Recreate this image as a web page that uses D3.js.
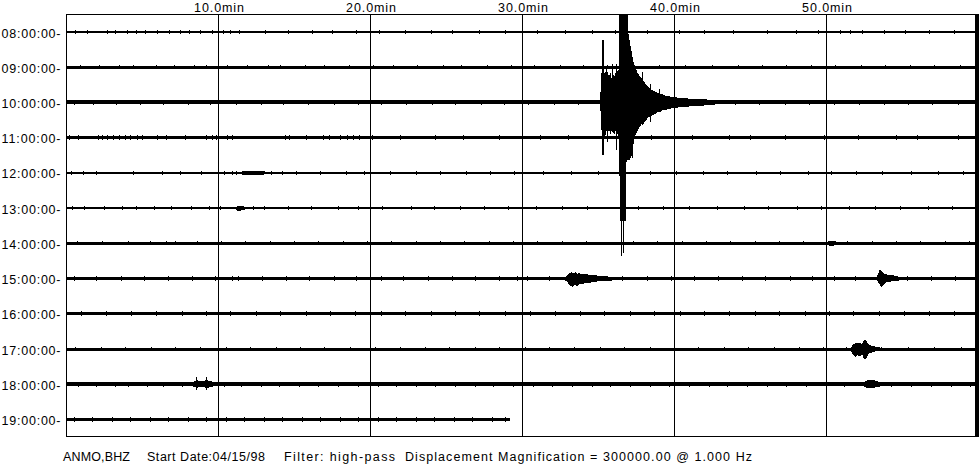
<!DOCTYPE html>
<html><head><meta charset="utf-8">
<script src="https://cdn.jsdelivr.net/npm/d3@7"></script>
<style>
html,body{margin:0;padding:0;background:#fff;}
svg{display:block;}
text{font-family:"Liberation Sans",Arial,Helvetica,sans-serif;fill:#000;}
</style></head><body>
<svg id="chart" width="979" height="464"></svg>
<script>
// ---------------- DATA ----------------
const rowLabels = ["08:00:00","09:00:00","10:00:00","11:00:00","12:00:00","13:00:00",
                   "14:00:00","15:00:00","16:00:00","17:00:00","18:00:00","19:00:00"];
const minuteTicks = [10, 20, 30, 40, 50];
// last recorded minute on each hourly line
const rowEndMinute = [60,60,60,60,60,60,60,60,60,60,60,29.2];
// background noise half-amplitude per line (counts; 352 counts = one line spacing)
const baseNoise = [13,13,20,13,13,13,14,16,15,15,18,16];
// small noise spikes per line (minutes)
const noiseTicks = [
  [0.6,1.4,2.7,3.2,4.0,4.6,5.2,6.0,6.8,7.5,8.1,8.8,9.6,10.3,10.8,11.4,13.1,14.6,16.2,17.5,19.1,20.6,22.3,24.0,25.4,27.2,28.9,31.0,32.8,34.6,36.1,38.2,40.3,42.0,43.9,46.1,48.0,49.5,50.9,51.6,52.4,53.8,55.2,56.8,58.4],
  [0.9,2.2,3.5,4.4,5.9,7.1,8.4,9.2,10.6,11.9,13.3,14.1,15.7,17.0,18.6,20.2,21.5,23.1,24.8,26.0,27.7,29.3,30.8,32.5,34.0,35.6,37.4,39.0,40.7,42.5,44.2,45.8,47.4,49.0,50.6,52.3,53.9,55.5,57.1,58.8],
  [0.5,1.8,3.3,4.9,6.4,8.0,9.5,11.2,12.8,14.3,15.9,17.6,19.2,20.7,22.4,24.1,25.6,27.3,28.8,30.4,32.1,33.7,44.0,45.6,47.3,48.9,50.5,52.2,53.8,55.4,57.0,58.7],
  [0.2,0.8,2.1,2.4,2.7,3.1,3.5,3.9,4.2,4.7,5.0,6.0,6.6,7.8,9.2,9.6,9.9,10.6,10.9,14.4,14.7,15.8,16.9,17.3,18.0,18.5,18.9,19.3,20.1,22.0,24.3,26.1,28.5,31.2,33.0,38.5,41.2,43.6,45.0,47.3,49.9,52.1,54.6,56.0,58.7],
  [0.3,1.1,2.0,4.4,6.3,7.5,8.9,10.4,10.9,11.2,13.5,14.2,15.1,16.7,18.4,19.6,21.3,23.0,24.6,26.3,27.9,29.5,31.4,33.2,35.0,38.4,40.1,41.9,43.5,45.4,47.0,48.8,50.3,52.0,53.7,55.6,57.4,59.0],
  [0.4,1.2,2.5,3.7,4.6,5.8,6.9,8.2,9.4,10.1,12.3,13.0,14.6,16.1,17.9,19.2,20.8,22.7,24.2,25.9,27.5,29.1,30.9,32.6,34.3,37.6,39.3,41.0,42.8,44.6,46.2,48.1,49.7,51.5,53.2,54.9,56.7,58.3],
  [0.7,2.4,4.1,5.5,6.6,7.2,8.6,10.2,11.8,13.4,15.0,16.6,18.2,19.8,21.4,23.0,24.6,26.2,27.8,29.4,31.0,32.6,34.2,37.3,38.9,40.5,42.1,43.7,45.3,46.9,48.5,51.4,53.0,54.6,56.2,57.8,59.4],
  [0.5,2.0,3.6,5.1,6.7,8.3,9.8,10.9,11.3,12.9,14.5,16.0,17.6,19.1,20.7,22.2,23.8,25.4,26.9,28.5,29.7,30.3,31.8,36.6,38.2,39.8,41.3,42.9,44.5,46.0,47.6,49.1,50.5,51.9,55.3,56.9,58.5],
  [1.0,2.6,4.3,5.9,7.6,9.2,10.8,12.5,14.1,15.8,17.4,19.0,20.7,22.3,24.0,25.6,27.2,28.9,30.5,32.2,33.8,35.4,37.1,38.7,40.4,42.0,43.6,45.3,46.9,48.6,50.2,51.8,53.5,55.1,56.8,58.4],
  [0.6,2.3,3.9,5.6,7.2,8.8,10.5,12.1,13.8,15.4,17.0,18.7,20.3,22.0,23.6,25.2,26.9,28.5,30.2,31.8,33.4,35.1,36.7,38.4,40.0,41.6,43.3,44.9,46.6,48.2,49.8,51.3,53.6,55.4,57.1,58.9],
  [0.8,2.0,3.2,4.1,5.3,6.4,7.6,10.4,11.5,12.8,14.0,15.3,16.6,17.9,19.2,20.5,21.7,23.0,24.3,25.6,26.9,28.1,29.4,30.7,32.0,33.3,34.6,35.8,37.1,38.4,39.7,41.0,42.3,43.5,44.8,46.1,47.4,48.7,50.0,51.2,54.3,55.6,56.9,58.2,59.5],
  [0.5,1.7,3.0,4.2,5.5,6.7,8.0,9.2,10.5,11.7,13.0,14.2,15.5,16.7,18.0,19.2,20.5,21.7,23.0,24.2,25.5,26.7,28.0,28.9]
];
// event envelopes: [minute, upward amplitude, downward amplitude] (counts)
const event10 = [
  [35.08,20,20],[35.14,120,100],[35.20,300,280],[35.27,260,320],[35.34,330,300],[35.43,280,350],
  [35.52,350,280],[35.60,300,330],[35.69,260,260],[35.78,300,320],[35.86,240,280],[35.95,280,300],
  [36.04,260,320],[36.13,300,280],[36.22,330,300],[36.30,280,340],[36.36,420,400],[36.40,1600,1000],
  [36.43,1600,1180],[36.81,1600,1180],[36.84,1600,600],[36.90,1600,580],[36.95,700,580],[37.01,650,560],
  [37.07,600,540],[37.14,540,560],[37.20,500,520],[37.27,420,430],[37.34,380,400],[37.40,360,330],
  [37.47,340,320],[37.54,300,290],[37.60,290,280],[37.67,270,250],[37.73,260,240],[37.83,240,220],
  [37.93,215,230],[38.03,200,190],[38.13,180,185],[38.26,160,150],[38.39,140,150],[38.55,120,125],
  [38.72,110,115],[38.88,95,100],[39.05,90,95],[39.21,80,80],[39.38,70,75],[39.70,60,62],
  [40.03,52,55],[40.36,46,48],[40.69,42,42],[41.02,38,40],[41.35,36,36],[41.68,34,34],
  [42.01,30,30],[42.34,28,28],[42.60,24,24],[42.75,18,18]
];
const spikes10 = [
  [35.30,620,530],[35.60,300,400],[35.90,380,300],[36.18,380,480],[36.50,1600,1530],
  [36.63,1600,1500],[37.05,420,580],[37.25,300,560],[37.90,300,180],[38.40,180,200],[39.0,130,90]
];
const event12 = [[11.5,13,13],[11.6,20,20],[11.8,24,20],[12.1,20,22],[12.4,23,20],[12.7,20,18],[12.95,18,18],[13.1,13,13]];
const event13 = [[11.15,13,13],[11.25,22,24],[11.45,24,24],[11.65,20,20],[11.75,13,13]];
const event14 = [[50.0,14,14],[50.15,24,22],[50.5,24,22],[50.7,14,14]];
const event15a = [
  [32.8,16,16],[32.95,35,35],[33.05,55,60],[33.2,63,75],[33.3,60,87],[33.4,58,70],[33.5,62,65],
  [33.6,50,75],[33.75,55,55],[33.9,45,55],[34.05,42,48],[34.2,45,40],[34.4,38,42],[34.6,40,35],
  [34.8,32,30],[35.1,28,28],[35.5,22,22],[36.0,18,18]
];
const event15b = [[53.3,16,16],[53.42,50,40],[53.5,90,60],[53.6,80,90],[53.7,60,70],[53.85,45,45],
  [54.0,40,35],[54.2,35,30],[54.45,30,25],[54.8,18,18]];
const event17 = [
  [51.6,15,15],[51.74,45,55],[51.9,60,80],[52.05,55,60],[52.2,60,75],[52.35,50,55],[52.45,80,90],
  [52.53,100,110],[52.62,80,95],[52.72,55,60],[52.86,40,40],[53.05,30,30],[53.3,22,22],[53.55,16,16]
];
const event18a = [[8.2,18,18],[8.4,26,26],[8.52,38,34],[8.6,45,40],[8.7,32,30],[8.85,28,28],[9.0,30,28],
  [9.15,38,34],[9.25,42,38],[9.4,32,30],[9.6,26,24],[9.85,18,18]];
const spikes18 = [[8.55,70,60],[9.22,70,55]];
const event18b = [[52.45,18,18],[52.6,36,32],[52.8,42,36],[53.0,46,40],[53.15,40,34],[53.35,30,28],[53.55,22,22],[53.7,18,18]];
const footerParts = ["ANMO,BHZ", "Start Date:04/15/98", "Filter: high-pass",
  "Displacement Magnification = 300000.00 @ 1.000 Hz"];

// ---------------- LAYOUT ----------------
const W = 979, H = 464;
const plotLeft = 66, plotRight = 978, plotTop = 14, plotBottom = 437;
const svg = d3.select("#chart");
const x = d3.scaleLinear().domain([0, 60]).range([66.5, 978.5]);
const y = d3.scalePoint().domain(rowLabels).range([32, 419.5]);
const amp = d3.scaleLinear().domain([0, 352]).range([0, y.step()]);

svg.append("rect").attr("width", W).attr("height", H).attr("fill", "#fff");

svg.append("defs").append("clipPath").attr("id", "plotclip")
  .append("rect").attr("x", plotLeft).attr("y", plotTop)
  .attr("width", plotRight - plotLeft).attr("height", plotBottom - plotTop);

// grid lines
svg.append("g").attr("shape-rendering", "crispEdges")
  .selectAll("line").data(minuteTicks).join("line")
  .attr("x1", d => x(d)).attr("x2", d => x(d))
  .attr("y1", plotTop).attr("y2", plotBottom)
  .attr("stroke", "#000").attr("stroke-width", 1);

const traces = svg.append("g").attr("clip-path", "url(#plotclip)")
  .attr("shape-rendering", "crispEdges");

// baselines
traces.append("g").selectAll("line").data(rowLabels).join("line")
  .attr("x1", x(0)).attr("x2", (d, i) => x(rowEndMinute[i]))
  .attr("y1", d => y(d)).attr("y2", d => y(d))
  .attr("stroke", "#000").attr("stroke-width", (d, i) => 2 * amp(baseNoise[i]));

// noise ticks
rowLabels.forEach((lab, i) => {
  traces.append("g").selectAll("line").data(noiseTicks[i]).join("line")
    .attr("x1", d => x(d)).attr("x2", d => x(d))
    .attr("y1", y(lab) - amp(baseNoise[i] + 9)).attr("y2", y(lab) + amp(baseNoise[i] + 6))
    .attr("stroke", "#000").attr("stroke-width", 1);
});

// events
const eventList = [
  ["10:00:00", event10], ["12:00:00", event12], ["13:00:00", event13], ["14:00:00", event14],
  ["15:00:00", event15a], ["15:00:00", event15b], ["17:00:00", event17],
  ["18:00:00", event18a], ["18:00:00", event18b]
];
eventList.forEach(([lab, data]) => {
  const Y = y(lab);
  const area = d3.area().x(d => x(d[0])).y0(d => Y + amp(d[2])).y1(d => Y - amp(d[1]));
  traces.append("path").datum(data).attr("d", area).attr("fill", "#000");
});
const spikeList = [["10:00:00", spikes10], ["18:00:00", spikes18]];
spikeList.forEach(([lab, data]) => {
  const Y = y(lab);
  traces.append("g").selectAll("line").data(data).join("line")
    .attr("x1", d => x(d[0])).attr("x2", d => x(d[0]))
    .attr("y1", d => Y - amp(d[1])).attr("y2", d => Y + amp(d[2]))
    .attr("stroke", "#000").attr("stroke-width", 1.2);
});

// frame
const frame = svg.append("g").attr("shape-rendering", "crispEdges");
frame.append("line").attr("x1", plotLeft + 0.5).attr("x2", plotLeft + 0.5)
  .attr("y1", plotTop).attr("y2", plotBottom).attr("stroke", "#000");
frame.append("line").attr("x1", plotLeft).attr("x2", plotRight)
  .attr("y1", plotTop + 0.5).attr("y2", plotTop + 0.5).attr("stroke", "#000");
frame.append("line").attr("x1", plotLeft).attr("x2", plotRight)
  .attr("y1", plotBottom - 0.5).attr("y2", plotBottom - 0.5).attr("stroke", "#000");
frame.append("rect").attr("x", plotRight - 3).attr("y", plotTop)
  .attr("width", 3.5).attr("height", plotBottom - plotTop).attr("fill", "#000");

// top axis
const topAxis = d3.axisTop(x).tickValues(minuteTicks)
  .tickFormat(d => d3.format(".1f")(d) + "min").tickSize(0).tickPadding(2.5);
const gTop = svg.append("g").attr("transform", `translate(0,${plotTop})`).call(topAxis);
gTop.select(".domain").remove();
gTop.selectAll("text").attr("font-size", 12.5).attr("font-family", null)
  .attr("textLength", 50).attr("lengthAdjust", "spacing");

// left axis
const leftAxis = d3.axisLeft(y).tickFormat(d => d + "-").tickSize(0).tickPadding(5.5);
const gLeft = svg.append("g").attr("transform", `translate(${plotLeft},0)`).call(leftAxis);
gLeft.select(".domain").remove();
gLeft.selectAll("text").attr("font-size", 12.5).attr("font-family", null).attr("dy", "0.4em")
  .attr("textLength", 59).attr("lengthAdjust", "spacing");

// footer
const footerX = [63, 147, 284, 405];
const footerLen = [67, 118, 111, 347];
svg.append("g").selectAll("text").data(footerParts).join("text")
  .attr("x", (d, i) => footerX[i]).attr("y", 460.5)
  .attr("font-size", 12.5)
  .attr("textLength", (d, i) => footerLen[i]).attr("lengthAdjust", "spacing")
  .text(d => d);
</script>
</body></html>
